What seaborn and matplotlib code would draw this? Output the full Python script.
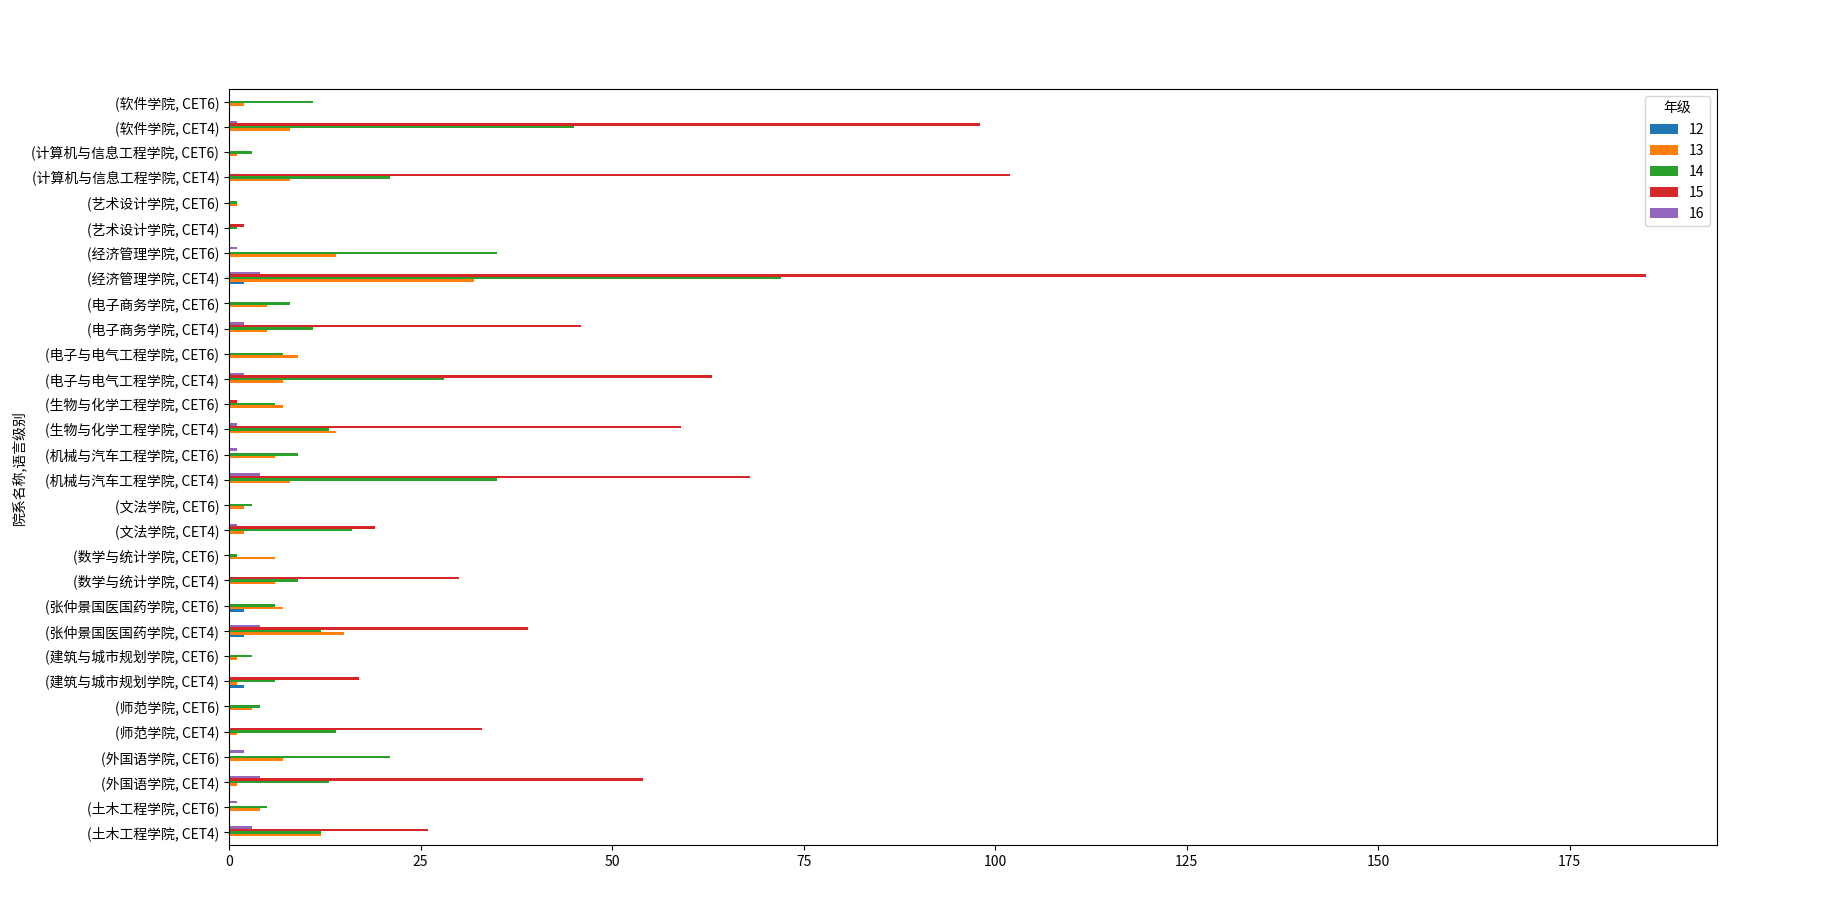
import matplotlib
matplotlib.use("Agg")
import matplotlib.pyplot as plt
import seaborn as sns
import pandas as pd

plt.rcParams['font.family'] = ['Noto Sans CJK SC', 'DejaVu Sans']
plt.rcParams['axes.unicode_minus'] = False

# categories, bottom to top (pandas barh order)
colleges = ["土木工程学院", "土木工程学院", "外国语学院", "外国语学院", "师范学院", "师范学院",
            "建筑与城市规划学院", "建筑与城市规划学院", "张仲景国医国药学院", "张仲景国医国药学院",
            "数学与统计学院", "数学与统计学院", "文法学院", "文法学院",
            "机械与汽车工程学院", "机械与汽车工程学院", "生物与化学工程学院", "生物与化学工程学院",
            "电子与电气工程学院", "电子与电气工程学院", "电子商务学院", "电子商务学院",
            "经济管理学院", "经济管理学院", "艺术设计学院", "艺术设计学院",
            "计算机与信息工程学院", "计算机与信息工程学院", "软件学院", "软件学院"]
levels = ["CET4", "CET6"] * 15

grades = ["12", "13", "14", "15", "16"]
g12 = [0, 0, 0, 0, 0, 0, 2, 0, 2, 2, 0, 0, 0, 0, 0, 0, 0, 0, 0, 0, 0, 0, 2, 0, 0, 0, 0, 0, 0, 0]
g13 = [12, 4, 1, 7, 1, 3, 1, 1, 15, 7, 6, 6, 2, 2, 8, 6, 14, 7, 7, 9, 5, 5, 32, 14, 0, 1, 8, 1, 8, 2]
g14 = [12, 5, 13, 21, 14, 4, 6, 3, 12, 6, 9, 1, 16, 3, 35, 9, 13, 6, 28, 7, 11, 8, 72, 35, 1, 1, 21, 3, 45, 11]
g15 = [26, 0, 54, 0, 33, 0, 17, 0, 39, 0, 30, 0, 19, 0, 68, 0, 59, 1, 63, 0, 46, 0, 185, 0, 2, 0, 102, 0, 98, 0]
g16 = [3, 1, 4, 2, 0, 0, 0, 0, 4, 0, 0, 0, 1, 0, 4, 1, 1, 0, 2, 0, 2, 0, 4, 1, 0, 0, 0, 0, 1, 0]
series = {"12": g12, "13": g13, "14": g14, "15": g15, "16": g16}

labels = [f"({c}, {l})" for c, l in zip(colleges, levels)]
rows = []
for g in grades:
    for lab, v in zip(labels, series[g]):
        rows.append({"cat": lab, "年级": g, "count": v})
df = pd.DataFrame(rows)

colors = {"12": "#1f77b4", "13": "#ff7f0e", "14": "#2ca02c", "15": "#d62728", "16": "#9467bd"}

fig = plt.figure(figsize=(18.21, 9.11), dpi=100)
ax = fig.add_axes([0.1258, 0.0725, 0.8172, 0.8295])

sns.barplot(data=df, x="count", y="cat", hue="年级", order=labels[::-1],
            hue_order=grades[::-1], palette=colors, width=0.5, orient="h",
            errorbar=None, ax=ax, saturation=1, linewidth=0)

ax.set_xlim(0, 194.25)
ax.set_xticks([0, 25, 50, 75, 100, 125, 150, 175])
ax.set_xlabel("")
ax.set_ylabel("院系名称,语言级别", fontsize=10)
ax.tick_params(labelsize=10)

handles, labs = ax.get_legend_handles_labels()
ax.legend(handles[::-1], labs[::-1], title="年级", loc="upper right", fontsize=10,
          title_fontsize=10)

fig.savefig("out.png", dpi=100)
